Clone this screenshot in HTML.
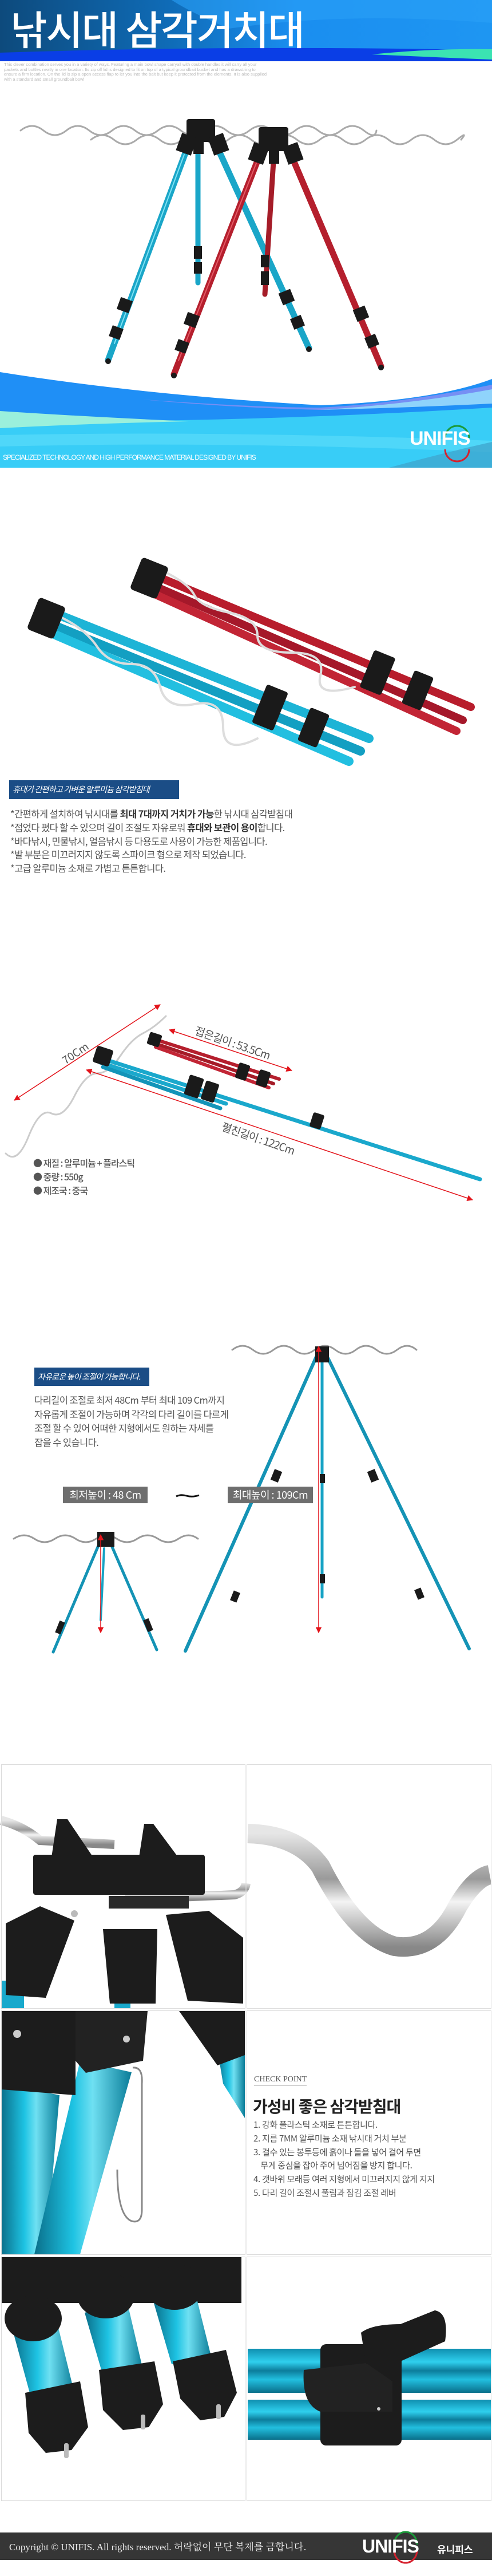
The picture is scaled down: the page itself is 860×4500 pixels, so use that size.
<!DOCTYPE html>
<html><head><meta charset="utf-8">
<style>
*{margin:0;padding:0;box-sizing:border-box}
body{width:860px;height:4500px;background:#fff;position:relative;overflow:hidden;font-family:"Liberation Sans","Noto Sans CJK KR",sans-serif}
.a{position:absolute;white-space:nowrap}
svg.bg{position:absolute;left:0;top:0}
.kr{font-family:"Noto Sans CJK KR","Liberation Sans",sans-serif}
.lbl{background:#1b4d86;color:#fff;font-size:14px;line-height:32px;padding-left:6px;font-family:"Noto Sans CJK KR",sans-serif;font-style:italic;letter-spacing:-0.8px;overflow:hidden}
.txt{color:#555;font-size:16.5px;line-height:23.8px;letter-spacing:-0.6px;font-family:"Noto Sans CJK KR",sans-serif}
.txt b{color:#333;font-weight:700}
.gbox{background:#6e6e6e;color:#fff;font-size:18px;line-height:29px;text-align:center;font-family:"Noto Sans CJK KR",sans-serif;letter-spacing:-0.5px}
.panel{position:absolute;border:1px solid #dcdcdc}
</style></head><body>
<svg class="bg" width="860" height="4500" viewBox="0 0 860 4500">
<defs>
<linearGradient id="hd" x1="0" y1="0" x2="1" y2="0"><stop offset="0" stop-color="#0d4a7c"/><stop offset="0.35" stop-color="#0f6cb8"/><stop offset="0.6" stop-color="#1a8ef0"/><stop offset="1" stop-color="#1e96f2"/></linearGradient>
<linearGradient id="teal" x1="0" y1="0" x2="1" y2="0"><stop offset="0" stop-color="#0a6f8a"/><stop offset="0.4" stop-color="#1ec3e3"/><stop offset="0.6" stop-color="#6fe0f2"/><stop offset="1" stop-color="#0a7c98"/></linearGradient>
<linearGradient id="tealh" x1="0" y1="0" x2="0" y2="1"><stop offset="0" stop-color="#0f8fb0"/><stop offset="0.3" stop-color="#2fd0ee"/><stop offset="0.5" stop-color="#0c7d9c"/><stop offset="0.7" stop-color="#22bfdf"/><stop offset="1" stop-color="#0a6f8a"/></linearGradient>
<linearGradient id="silv" x1="0" y1="0" x2="0" y2="1"><stop offset="0" stop-color="#e6e6e6"/><stop offset="0.4" stop-color="#9a9a9a"/><stop offset="0.6" stop-color="#f4f4f4"/><stop offset="1" stop-color="#888"/></linearGradient>
<marker id="ar" viewBox="0 0 10 10" refX="9" refY="5" markerWidth="7" markerHeight="7" orient="auto-start-reverse"><path d="M0 0L10 5L0 10z" fill="#e3141b"/></marker>
</defs>

<rect x="0" y="0" width="860" height="107" fill="url(#hd)"/>
<path d="M300 0 L860 0 L860 40 Q600 20 400 50 Q330 20 300 0z" fill="#2aa0f6" opacity="0.6"/>
<path d="M0 92 Q430 78 860 88 L860 107 L0 107z" fill="#0a3ee6"/>
<path d="M650 95 Q760 84 860 86 L860 104 Q760 100 650 95z" fill="#3be3b2"/>

<g stroke-linecap="round" fill="none">
 <line x1="346" y1="265" x2="346" y2="494" stroke="#1aa6c8" stroke-width="9"/>
 <line x1="326" y1="262" x2="189" y2="629" stroke="#1aa6c8" stroke-width="11"/>
 <line x1="382" y1="262" x2="540" y2="608" stroke="#1aa6c8" stroke-width="11"/>
 <line x1="322" y1="270" x2="200" y2="600" stroke="#7fe2f4" stroke-width="2"/>
 <line x1="478" y1="282" x2="463" y2="514" stroke="#a51c28" stroke-width="9"/>
 <line x1="452" y1="276" x2="304" y2="654" stroke="#b51f2d" stroke-width="11"/>
 <line x1="512" y1="278" x2="666" y2="640" stroke="#b51f2d" stroke-width="11"/>
 <line x1="448" y1="285" x2="312" y2="630" stroke="#e45a66" stroke-width="2"/>
 <path d="M36 228 q20 -16 40 0 t40 0 t40 0 t40 0 t40 0 t40 0 t40 0 t40 0 t40 0 t40 0 t40 0 t40 0 t40 0 t40 0 t40 0 t22 0" stroke="#aaa" stroke-width="3"/>
 <path d="M159 244 q20 -16 40 0 t40 0 t40 0 t40 0 t40 0 t40 0 t40 0 t40 0 t40 0 t40 0 t40 0 t40 0 t40 0 t40 0 t40 0 t40 0 t7 0" stroke="#aaa" stroke-width="3"/>
</g>
<g fill="#1a1a1a">
 <rect x="326" y="208" width="50" height="40" rx="4"/>
 <rect x="312" y="236" width="28" height="32" transform="rotate(20 326 252)"/>
 <rect x="368" y="236" width="28" height="32" transform="rotate(-20 382 252)"/>
 <rect x="338" y="245" width="18" height="24"/>
 <rect x="452" y="222" width="52" height="42" rx="4"/>
 <rect x="438" y="252" width="28" height="32" transform="rotate(20 452 268)"/>
 <rect x="498" y="252" width="28" height="32" transform="rotate(-20 512 268)"/>
 <rect x="470" y="262" width="18" height="24"/>
 <rect x="207" y="522" width="22" height="22" transform="rotate(20 218 533)"/>
 <rect x="193" y="571" width="20" height="20" transform="rotate(20 203 581)"/>
 <rect x="490" y="508" width="22" height="22" transform="rotate(-22 501 519)"/>
 <rect x="510" y="553" width="20" height="20" transform="rotate(-22 520 563)"/>
 <rect x="324" y="548" width="22" height="22" transform="rotate(20 335 559)"/>
 <rect x="308" y="595" width="20" height="20" transform="rotate(20 318 605)"/>
 <rect x="620" y="537" width="22" height="22" transform="rotate(-22 631 548)"/>
 <rect x="640" y="586" width="20" height="20" transform="rotate(-22 650 596)"/>
 <rect x="339" y="430" width="14" height="22"/><rect x="339" y="458" width="14" height="20"/>
 <rect x="456" y="445" width="14" height="22"/><rect x="456" y="474" width="14" height="24"/>
 <circle cx="189" cy="631" r="5"/><circle cx="540" cy="610" r="5"/><circle cx="304" cy="656" r="5"/><circle cx="666" cy="642" r="5"/>
</g>

<path d="M0 650 Q250 690 560 708 Q760 700 860 662 L860 817 L0 817z" fill="#1f8ff6"/>
<path d="M250 698 Q450 712 560 712 Q700 705 860 672 L860 700 Q700 710 560 716 Q400 712 250 698z" fill="#9b8ef4" opacity="0.7"/>
<path d="M560 716 Q720 706 860 680 L860 705 Q720 712 560 716z" fill="#8fd3fb"/>
<path d="M0 735 Q400 740 860 712 L860 817 L0 817z" fill="#38cdf7"/>
<path d="M0 718 L0 748 Q150 740 330 736 Q150 728 0 718z" fill="#9af0dc"/>
<path d="M0 760 Q400 752 860 770 L860 790 Q400 770 0 780z" fill="#5adcfa" opacity="0.7"/>
<path d="M680 817 Q780 790 860 772 L860 817z" fill="#3ea8cf" opacity="0.8"/>
<path d="M778 765 A21 21 0 0 1 820 765" fill="none" stroke="#1b9a3a" stroke-width="3"/>
<path d="M778 785 A21 21 0 0 0 820 785" fill="none" stroke="#d5212e" stroke-width="3"/>

<g stroke-linecap="round">
 <line x1="270" y1="1005" x2="823" y2="1235" stroke="#b81d2c" stroke-width="14"/>
 <line x1="266" y1="1022" x2="809" y2="1258" stroke="#a5182a" stroke-width="14"/>
 <line x1="275" y1="1040" x2="798" y2="1277" stroke="#c22535" stroke-width="14"/>
 <line x1="80" y1="1065" x2="645" y2="1290" stroke="#1db4d6" stroke-width="16"/>
 <line x1="76" y1="1085" x2="630" y2="1312" stroke="#139fc2" stroke-width="16"/>
 <line x1="90" y1="1106" x2="610" y2="1330" stroke="#22bfe0" stroke-width="16"/>
 <path d="M290 1000 q40 20 50 40 t60 30 t50 40 t60 30 t50 40 t60 20" fill="none" stroke="#ddd" stroke-width="4"/>
 <path d="M110 1080 q40 20 60 50 t60 30 t50 40 t60 30 t50 40 t60 20" fill="none" stroke="#ddd" stroke-width="4"/>
</g>
<g fill="#1a1a1a">
 <rect x="236" y="980" width="50" height="60" rx="6" transform="rotate(22 261 1010)"/>
 <rect x="56" y="1050" width="50" height="60" rx="6" transform="rotate(22 81 1080)"/>
 <rect x="640" y="1140" width="40" height="70" rx="4" transform="rotate(22 660 1175)"/>
 <rect x="712" y="1175" width="36" height="62" rx="4" transform="rotate(22 730 1206)"/>
 <rect x="452" y="1200" width="40" height="72" rx="4" transform="rotate(22 472 1236)"/>
 <rect x="530" y="1240" width="36" height="62" rx="4" transform="rotate(22 548 1271)"/>
</g>

<g stroke-linecap="round">
 <path d="M290 1775 q-20 20 -40 30 t-40 40 t-40 30 t-40 40 t-40 30 t-40 40 t-40 30" fill="none" stroke="#ccc" stroke-width="3"/>
 <line x1="175" y1="1848" x2="839" y2="2060" stroke="#1aa8cc" stroke-width="7"/>
 <line x1="175" y1="1856" x2="395" y2="1928" stroke="#1aa8cc" stroke-width="7"/>
 <line x1="180" y1="1864" x2="385" y2="1936" stroke="#1394b8" stroke-width="7"/>
 <line x1="269" y1="1815" x2="488" y2="1885" stroke="#b51f2d" stroke-width="6"/>
 <line x1="269" y1="1822" x2="478" y2="1893" stroke="#a51c28" stroke-width="6"/>
 <line x1="272" y1="1829" x2="470" y2="1900" stroke="#c22535" stroke-width="6"/>
</g>
<g fill="#1a1a1a">
 <rect x="165" y="1830" width="30" height="30" rx="4" transform="rotate(18 180 1845)"/>
 <rect x="259" y="1805" width="22" height="22" rx="3" transform="rotate(18 270 1816)"/>
 <rect x="326" y="1880" width="26" height="36" rx="3" transform="rotate(18 339 1898)"/>
 <rect x="355" y="1890" width="24" height="34" rx="3" transform="rotate(18 367 1907)"/>
 <rect x="544" y="1945" width="20" height="26" rx="3" transform="rotate(18 554 1958)"/>
 <rect x="414" y="1858" width="20" height="28" rx="3" transform="rotate(18 424 1872)"/>
 <rect x="450" y="1870" width="20" height="28" rx="3" transform="rotate(18 460 1884)"/>
</g>
<g stroke="#e3141b" stroke-width="1.5" marker-start="url(#ar)" marker-end="url(#ar)">
 <line x1="25" y1="1922" x2="280" y2="1755"/>
 <line x1="296" y1="1799" x2="510" y2="1870"/>
 <line x1="151" y1="1869" x2="826" y2="2096"/>
</g>

<g stroke-linecap="round" fill="none">
 <path d="M406 2358 q18 -14 36 0 t36 0 t36 0 t36 0 t36 0 t36 0 t36 0 t36 0 t34 0" stroke="#999" stroke-width="3"/>
 <line x1="553" y1="2370" x2="324" y2="2884" stroke="#1493b5" stroke-width="6"/>
 <line x1="572" y1="2370" x2="820" y2="2880" stroke="#1493b5" stroke-width="6"/>
 <line x1="563" y1="2375" x2="563" y2="2790" stroke="#17a3c5" stroke-width="5"/>
 <path d="M24 2688 q18 -12 36 0 t36 0 t36 0 t36 0 t36 0 t36 0 t36 0 t36 0 t34 0" stroke="#999" stroke-width="3"/>
 <line x1="172" y1="2700" x2="93" y2="2886" stroke="#1493b5" stroke-width="5"/>
 <line x1="195" y1="2700" x2="274" y2="2882" stroke="#1493b5" stroke-width="5"/>
 <line x1="182" y1="2705" x2="176" y2="2830" stroke="#17a3c5" stroke-width="4"/>
</g>
<g fill="#1a1a1a">
 <rect x="551" y="2352" width="24" height="28"/>
 <rect x="476" y="2568" width="14" height="20" transform="rotate(22 483 2578)"/>
 <rect x="645" y="2568" width="14" height="20" transform="rotate(-22 652 2578)"/>
 <rect x="405" y="2780" width="12" height="18" transform="rotate(22 411 2789)"/>
 <rect x="727" y="2775" width="12" height="18" transform="rotate(-22 733 2784)"/>
 <rect x="559" y="2575" width="9" height="16"/><rect x="559" y="2750" width="9" height="16"/>
 <rect x="170" y="2676" width="30" height="26"/>
 <rect x="100" y="2832" width="10" height="22" transform="rotate(22 105 2843)"/>
 <rect x="254" y="2828" width="10" height="22" transform="rotate(-22 259 2839)"/>
</g>
<g stroke="#e3141b" stroke-width="1.5" marker-start="url(#ar)" marker-end="url(#ar)">
 <line x1="557" y1="2352" x2="557" y2="2852"/>
 <line x1="176" y1="2681" x2="176" y2="2852"/>
</g>
<path d="M308 2614 q8 -4 18 -1 t22 -1" stroke="#111" stroke-width="3" fill="none"/>

<!-- row1 left -->
<g>
 <path d="M2 3180 Q40 3190 70 3215 L200 3222" stroke="url(#silv)" stroke-width="16" fill="none"/>
 <path d="M219 3318 L410 3310 Q428 3305 430 3290" stroke="url(#silv)" stroke-width="16" fill="none"/>
 <rect x="2" y="3460" width="40" height="48" fill="#19a9cc"/>
 <rect x="200" y="3485" width="28" height="23" fill="#19a9cc"/>
 <g fill="#1c1c1c">
  <path d="M100 3178 L118 3178 L172 3258 L88 3258z"/>
  <path d="M252 3186 L268 3186 L326 3264 L240 3264z"/>
  <rect x="58" y="3240" width="300" height="70" rx="4"/>
  <path d="M10 3360 L70 3330 L130 3355 L80 3490 L10 3485z"/>
  <path d="M180 3370 L275 3370 L272 3500 L192 3500z"/>
  <path d="M290 3345 L365 3338 L425 3385 L425 3500 L328 3495z"/>
 </g>
 <rect x="190" y="3312" width="140" height="22" fill="#2a2a2a"/>
 <circle cx="130" cy="3343" r="6" fill="#bbb"/>
</g>
<path d="M433 3203 Q520 3205 560 3260 Q620 3380 690 3400 Q760 3410 800 3330 Q830 3280 856 3275" stroke="url(#silv)" stroke-width="34" fill="none"/>
<g>
 <path d="M2 3640 L104 3660 L80 3938 L2 3938z" fill="url(#teal)"/>
 <path d="M140 3600 L230 3620 L140 3938 L60 3938z" fill="url(#teal)"/>
 <path d="M380 3580 L428 3560 L428 3700 L390 3640z" fill="url(#teal)"/>
 <path d="M2 3513 L132 3513 L132 3660 L2 3650z" fill="#1c1c1c"/>
 <path d="M132 3513 L258 3513 L250 3600 L150 3621 L132 3600z" fill="#222"/>
 <path d="M313 3513 L428 3513 L428 3590 L380 3608z" fill="#1c1c1c"/>
 <circle cx="30" cy="3553" r="7" fill="#ccc"/><circle cx="221" cy="3562" r="6" fill="#ccc"/>
 <path d="M232 3612 Q250 3610 248 3640 L248 3860 Q248 3885 230 3880 Q205 3870 205 3790" stroke="#888" stroke-width="3" fill="none"/>
</g>
<g>
 <rect x="2" y="3943" width="420" height="80" fill="#1c1c1c"/>
 <path d="M22 4070 L98 4050 L130 4180 L56 4195z" fill="url(#teal)"/>
 <path d="M148 4040 L222 4020 L250 4140 L180 4150z" fill="url(#teal)"/>
 <path d="M268 4020 L340 4000 L370 4120 L300 4130z" fill="url(#teal)"/>
 <ellipse cx="58" cy="4050" rx="50" ry="40" fill="#1c1c1c"/>
 <ellipse cx="185" cy="4010" rx="50" ry="40" fill="#1c1c1c"/>
 <ellipse cx="305" cy="3995" rx="50" ry="40" fill="#1c1c1c"/>
 <path d="M44 4180 L140 4160 L154 4240 L125 4280 L80 4285 L50 4250z" fill="#1c1c1c"/>
 <path d="M173 4140 L270 4125 L285 4200 L260 4240 L215 4245 L180 4210z" fill="#1c1c1c"/>
 <path d="M302 4125 L395 4105 L414 4180 L392 4222 L350 4228 L315 4190z" fill="#1c1c1c"/>
 <rect x="112" y="4268" width="8" height="26" rx="3" fill="#bbb"/>
 <rect x="246" y="4218" width="8" height="26" rx="3" fill="#bbb"/>
 <rect x="378" y="4200" width="8" height="26" rx="3" fill="#bbb"/>
</g>
<g>
 <rect x="433" y="4103" width="425" height="77" fill="url(#tealh)"/>
 <rect x="433" y="4192" width="425" height="70" fill="url(#tealh)"/>
 <rect x="560" y="4095" width="142" height="177" rx="10" fill="#1c1c1c"/>
 <path d="M531 4140 L640 4128 L686 4160 L686 4213 L560 4213 Q527 4200 531 4140z" fill="#222"/>
 <path d="M631 4075 Q650 4060 700 4060 L760 4036 Q785 4040 778 4090 L700 4125 L640 4130z" fill="#1c1c1c"/>
 <circle cx="662" cy="4208" r="3" fill="#ccc"/>
</g>

<rect x="0" y="4424" width="860" height="48" fill="#363636"/>
<path d="M689 4445 A20 22 0 0 1 729 4445" fill="none" stroke="#1b9a3a" stroke-width="3"/>
<path d="M689 4455 A20 22 0 0 0 729 4455" fill="none" stroke="#d5212e" stroke-width="3"/>
</svg>

<div class="a kr" style="left:18px;top:4px;font-size:70px;line-height:90px;color:#fff;font-weight:500;letter-spacing:-2px">낚시대 삼각거치대</div>
<div class="a" style="left:7px;top:109px;font-size:7.5px;line-height:8.6px;color:#bbb;white-space:normal;width:460px">This clever combination serves you in a variety of ways. Featuring a main bowl shape carryall with double handles it will carry all your packets and bottles neatly in one location. Its zip off lid is designed to fit on top of a typical groundbait bucket and has a drawstring to ensure a firm location. On the lid is zip a open access flap to let you into the bait but keep it protected from the elements. It is also supplied with a standard and small groundbait bowl</div>
<div class="a" style="left:5px;top:792px;font-size:12px;color:#fff;letter-spacing:-1px">SPECIALIZED TECHNOLOGY AND HIGH PERFORMANCE MATERIAL DESIGNED BY UNIFIS</div>
<div class="a" style="left:716px;top:746px;font-size:34px;line-height:40px;color:#fff;font-weight:700;letter-spacing:-1px">UNIFIS</div>

<div class="a lbl" style="left:16px;top:1363px;width:297px;height:33px">휴대가 간편하고 가벼운 알루미늄 삼각받침대</div>
<div class="a txt" style="left:18px;top:1410px">*간편하게 설치하여 낚시대를 <b>최대 7대까지 거치가 가능</b>한 낚시대 삼각받침대<br>*접었다 폈다 할 수 있으며 길이 조절도 자유로워 <b>휴대와 보관이 용이</b>합니다.<br>*바다낚시, 민물낚시, 얼음낚시 등 다용도로 사용이 가능한 제품입니다.<br>*발 부분은 미끄러지지 않도록 스파이크 형으로 제작 되었습니다.<br>*고급 알루미늄 소재로 가볍고 튼튼합니다.</div>

<div class="a kr" style="left:106px;top:1826px;font-size:19px;color:#555;transform:rotate(-34deg)">70Cm</div>
<div class="a kr" style="left:338px;top:1808px;font-size:19px;color:#555;transform:rotate(19deg);letter-spacing:-1px">접은길이 : 53.5Cm</div>
<div class="a kr" style="left:385px;top:1975px;font-size:19px;color:#555;transform:rotate(19deg);letter-spacing:-1px">펼친길이 : 122Cm</div>
<div class="a kr" style="left:58px;top:2019px;font-size:16px;line-height:24px;color:#555;font-weight:500;letter-spacing:-1px">● 재질 : 알루미늄 + 플라스틱<br>● 중량 : 550g<br>● 제조국 : 중국</div>

<div class="a lbl" style="left:60px;top:2389px;width:201px;height:32px">자유로운 높이 조절이 가능합니다.</div>
<div class="a txt" style="left:60px;top:2433px;line-height:24.5px">다리길이 조절로 최저 48Cm 부터 최대 109 Cm까지<br>자유롭게 조절이 가능하며 각각의 다리 길이를 다르게<br>조절 할 수 있어 어떠한 지형에서도 원하는 자세를<br>잡을 수 있습니다.</div>
<div class="a gbox" style="left:110px;top:2597px;width:148px;height:29px">최저높이 : 48 Cm</div>
<div class="a gbox" style="left:398px;top:2597px;width:149px;height:29px">최대높이 : 109Cm</div>

<div class="panel" style="left:2px;top:3082px;width:427px;height:427px"></div>
<div class="panel" style="left:431px;top:3082px;width:428px;height:427px"></div>
<div class="panel" style="left:2px;top:3512px;width:427px;height:427px"></div>
<div class="panel" style="left:431px;top:3512px;width:428px;height:427px"></div>
<div class="panel" style="left:2px;top:3942px;width:427px;height:427px"></div>
<div class="panel" style="left:431px;top:3942px;width:428px;height:427px"></div>

<div class="a" style="left:444px;top:3624px;font-family:'Liberation Serif',serif;font-size:14px;color:#555;border-bottom:1px solid #777;line-height:18px">CHECK POINT</div>
<div class="a kr" style="left:442px;top:3660px;font-size:28px;line-height:38px;color:#222;font-weight:700;letter-spacing:-1px">가성비 좋은 삼각받침대</div>
<div class="a kr" style="left:443px;top:3700px;font-size:15px;line-height:23.8px;color:#555;letter-spacing:-0.3px">1. 강화 플라스틱 소재로 튼튼합니다.<br>2. 지름 7MM 알루미늄 소재 낚시대 거치 부분<br>3. 걸수 있는 봉투등에 흙이나 돌을 넣어 걸어 두면<br>&nbsp;&nbsp;&nbsp;&nbsp;무게 중심을 잡아 주어 넘어짐을 방지 합니다.<br>4. 갯바위 모래등 여러 지형에서 미끄러지지 않게 지지<br>5. 다리 길이 조절시 풀림과 잠김 조절 레버</div>

<div class="a" style="left:16px;top:4436px;font-family:'Liberation Serif','Noto Serif CJK SC',serif;font-size:17px;line-height:24px;color:#eee">Copyright © UNIFIS. All rights reserved. <span style="font-family:'Noto Serif CJK SC','Noto Sans CJK KR',serif">허락없이 무단 복제를 금합니다.</span></div>
<div class="a" style="left:633px;top:4428px;font-size:32px;line-height:40px;color:#fff;font-weight:700;letter-spacing:-1px">UNIFIS</div>
<div class="a kr" style="left:764px;top:4441px;font-size:17px;line-height:24px;color:#fff;font-weight:700">유니피스</div>
</body></html>
